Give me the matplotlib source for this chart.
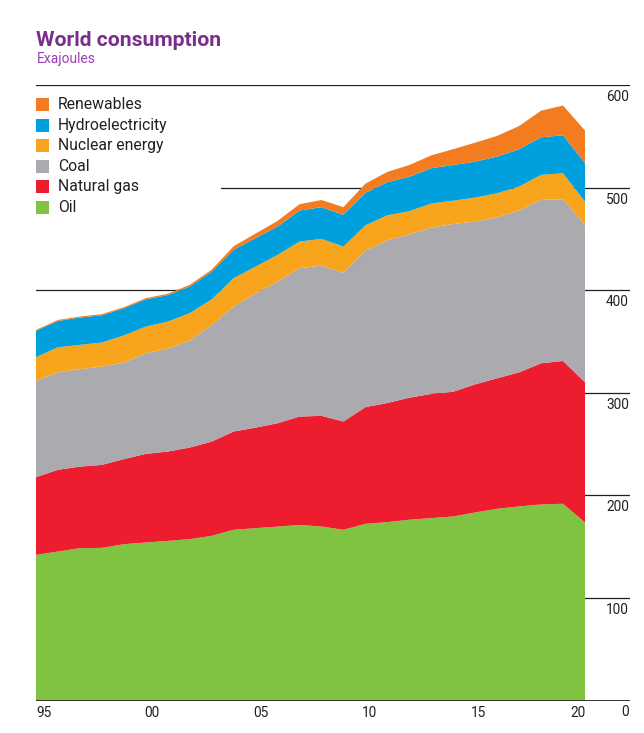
import matplotlib
matplotlib.use("Agg")
import matplotlib.pyplot as plt
from matplotlib.patches import Rectangle
from matplotlib import transforms
import numpy as np

# ---------------- data (exajoules) ----------------
years = list(range(1995, 2021))
oil = [142.0, 145.2, 148.5, 148.8, 152.4, 154.0, 155.6, 157.3, 160.5, 166.4,
       168.0, 169.5, 171.2, 169.6, 166.4, 172.2, 173.9, 176.2, 177.8, 179.4,
       183.3, 186.9, 189.2, 191.1, 191.8, 173.5]
natural_gas = [75.7, 79.7, 79.5, 80.9, 82.9, 86.4, 87.1, 89.3, 91.9, 95.8,
               98.0, 100.8, 105.6, 107.9, 105.6, 113.8, 116.1, 119.0, 121.0, 121.6,
               124.9, 127.2, 130.7, 137.6, 139.2, 136.7]
coal = [93.9, 95.1, 95.0, 95.8, 94.1, 98.2, 100.1, 104.3, 113.6, 121.8,
        131.0, 138.1, 144.6, 146.5, 145.0, 152.5, 158.6, 159.1, 162.2, 163.5,
        158.7, 157.0, 157.7, 159.3, 157.7, 153.4]
nuclear = [23.1, 24.4, 23.7, 23.5, 26.4, 25.9, 26.6, 26.7, 25.0, 27.7,
           26.0, 26.0, 26.0, 26.0, 25.5, 24.7, 24.4, 22.7, 23.5, 22.7,
           23.4, 23.4, 23.4, 24.4, 25.3, 22.7]
hydro = [25.6, 25.6, 26.6, 26.5, 26.5, 26.5, 25.8, 25.9, 27.0, 27.6,
         27.7, 27.6, 30.2, 30.9, 31.0, 31.6, 32.3, 33.5, 34.4, 34.8,
         35.0, 35.7, 36.4, 36.6, 37.0, 37.5]
renewables = [1.0, 1.0, 1.0, 1.1, 1.1, 1.2, 1.3, 1.7, 2.0, 3.5,
              4.5, 5.5, 6.2, 7.0, 7.4, 9.0, 10.0, 11.5, 12.5, 15.5,
              18.5, 20.2, 22.6, 26.0, 29.0, 31.8]

series_names = ["Oil", "Natural gas", "Coal", "Nuclear energy", "Hydroelectricity", "Renewables"]
series_colors = ["#80c242", "#ee1c2f", "#abaaae", "#f8a51d", "#009fde", "#f47c20"]

x_tick_years = [1995, 2000, 2005, 2010, 2015, 2020]
x_tick_labels = ["95", "00", "05", "10", "15", "20"]
y_ticks = [0, 100, 200, 300, 400, 500, 600]

title = "World consumption"
subtitle = "Exajoules"

# ---------------- figure ----------------
W, H = 644, 733
fig = plt.figure(figsize=(W / 100, H / 100), dpi=100)
FONT = ["Roboto", "DejaVu Sans"]
TXT = "#231f20"

def fx(px):
    return px / W

def fy(py):
    return 1 - py / H

ax_left, ax_right, ax_top, ax_bot = 36, 630, 85, 700.5
ax = fig.add_axes([fx(ax_left), fy(ax_bot), fx(ax_right - ax_left), (ax_bot - ax_top) / H])
px_per_year = 21.96
ax.set_xlim(1995, 1995 + (ax_right - ax_left) / px_per_year)
ax.set_ylim(0, 600)
ax.axis("off")

# gridlines
for v in y_ticks[1:]:
    ax.axhline(v, color=TXT, lw=0.9, zorder=1)

ax.stackplot(years, oil, natural_gas, coal, nuclear, hydro, renewables,
             colors=series_colors, linewidth=0, zorder=2, antialiased=True)

ax.axhline(0, color=TXT, lw=2.0, zorder=4)

# y tick labels (right, below the lines)
for v in y_ticks:
    tr = transforms.offset_copy(ax.get_yaxis_transform(), fig=fig, x=-1, y=-5, units="dots")
    ax.text(1.0, v, str(v), transform=tr, ha="right", va="top",
            fontsize=9.8, color=TXT, family=FONT)

# x tick labels
x_offsets = [8, 6.5, 5.5, 4, 3, -7]
for yr, lab, off in zip(x_tick_years, x_tick_labels, x_offsets):
    tr = transforms.offset_copy(ax.get_xaxis_transform(), fig=fig, x=off, y=-12.5, units="dots")
    ax.text(yr, 0, lab, transform=tr, ha="center", va="center",
            fontsize=9.8, color=TXT, family=FONT)

# title
fig.text(fx(36.5), fy(40), title, ha="left", va="center", fontsize=15.2,
         fontweight="bold", color="#7a2e8c", family=FONT)
fig.text(fx(37), fy(59), subtitle, ha="left", va="center", fontsize=10,
         color="#9b3fb5", family=FONT)

# legend: white box that hides the gridline, then items
fig.patches.append(Rectangle((fx(34), fy(222)), fx(221 - 34), (222 - 92) / H,
                             transform=fig.transFigure, facecolor="white",
                             edgecolor="none", zorder=5))
legend_order = list(range(len(series_names)))[::-1]
for i, idx in enumerate(legend_order):
    yc = 104.5 + i * 20.6
    fig.patches.append(Rectangle((fx(36), fy(yc + 6.5)), fx(13), 13 / H,
                                 transform=fig.transFigure,
                                 facecolor=series_colors[idx], edgecolor="none", zorder=6))
    fig.text(fx(58), fy(yc), series_names[idx], ha="left", va="center",
             fontsize=11.3, color=TXT, family=FONT, zorder=7)

fig.savefig("out.png", dpi=100)
